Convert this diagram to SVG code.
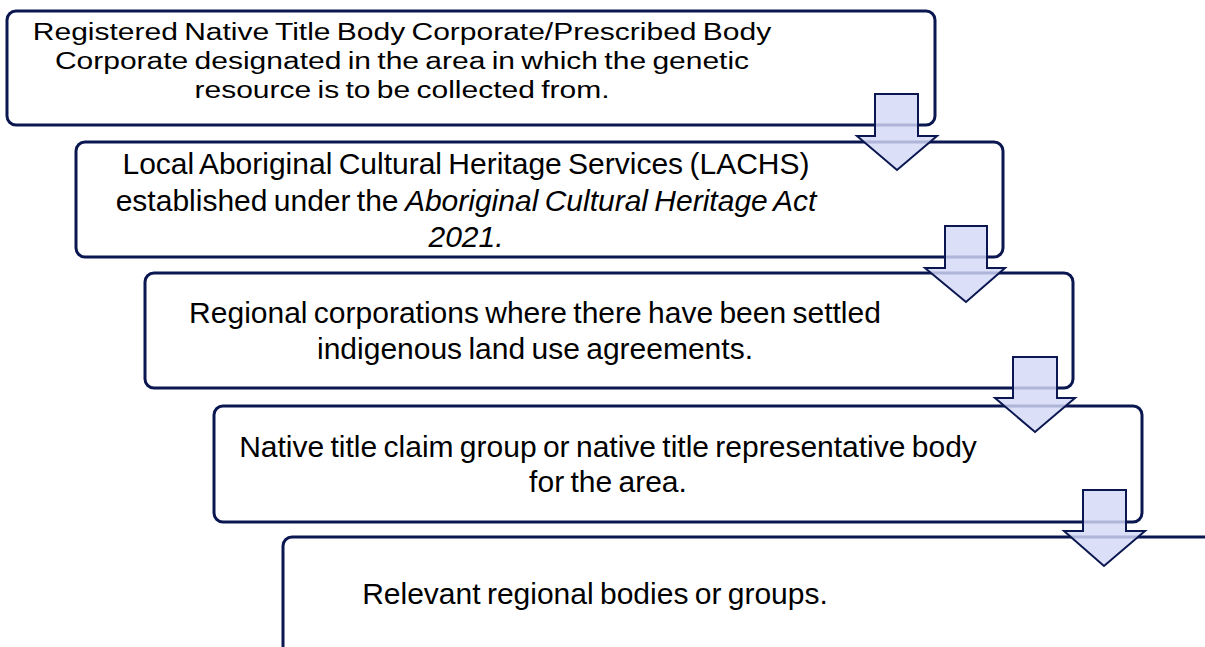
<svg xmlns="http://www.w3.org/2000/svg" width="1205" height="647" viewBox="0 0 1205 647">
  <style>
    .box { fill: #ffffff; stroke: #0b1750; stroke-width: 3; }
    .lbl { font-family: "Liberation Sans", Arial, sans-serif; font-size: 30px; word-spacing: -2px; fill: #000000; text-anchor: middle; }
    .it { font-style: italic; }
    .arrow { fill: #d3d8f7; fill-opacity: 0.82; stroke: #0b1750; stroke-width: 2; stroke-linejoin: miter; }
  </style>
  <rect width="1205" height="647" fill="#ffffff"/>

  <g id="node1">
    <rect class="box" x="7" y="11" width="928" height="114" rx="9"/>
    <!-- three tight lines: glyphs squeezed vertically to fit the box -->
    <text class="lbl" transform="translate(402 40) scale(1 0.82)">Registered Native Title Body Corporate/Prescribed Body</text>
    <text class="lbl" transform="translate(402 69) scale(1 0.82)">Corporate designated in the area in which the genetic</text>
    <text class="lbl" transform="translate(402 98) scale(1 0.82)">resource is to be collected from.</text>
  </g>

  <g id="node2">
    <rect class="box" x="76" y="142" width="927" height="115" rx="9"/>
    <text class="lbl" x="466" y="174">Local Aboriginal Cultural Heritage Services (LACHS)</text>
    <text class="lbl" x="466" y="211">established under the <tspan class="it">Aboriginal Cultural Heritage Act</tspan></text>
    <text class="lbl it" x="466" y="247">2021.</text>
  </g>

  <g id="node3">
    <rect class="box" x="145" y="273" width="928" height="115" rx="9"/>
    <text class="lbl" x="535" y="323">Regional corporations where there have been settled</text>
    <text class="lbl" x="535" y="359">indigenous land use agreements.</text>
  </g>

  <g id="node4">
    <rect class="box" x="214" y="406" width="928" height="116" rx="9"/>
    <text class="lbl" x="608" y="457">Native title claim group or native title representative body</text>
    <text class="lbl" x="608" y="492">for the area.</text>
  </g>

  <g id="node5">
    <rect class="box" x="283" y="537" width="1000" height="200" rx="9"/>
    <text class="lbl" x="595" y="604">Relevant regional bodies or groups.</text>
  </g>

  <g id="connectors">
    <path class="arrow" d="M875,94 H918 V136 H937 L897,170 L857,136 H875 Z"/>
    <path class="arrow" d="M945,226 H987 V268 H1005 L966,302 L925,268 H945 Z"/>
    <path class="arrow" d="M1013,357 H1057 V398 H1075 L1035,432 L995,398 H1013 Z"/>
    <path class="arrow" d="M1083,490 H1126 V531 H1145 L1104,566 L1064,531 H1083 Z"/>
  </g>
</svg>
